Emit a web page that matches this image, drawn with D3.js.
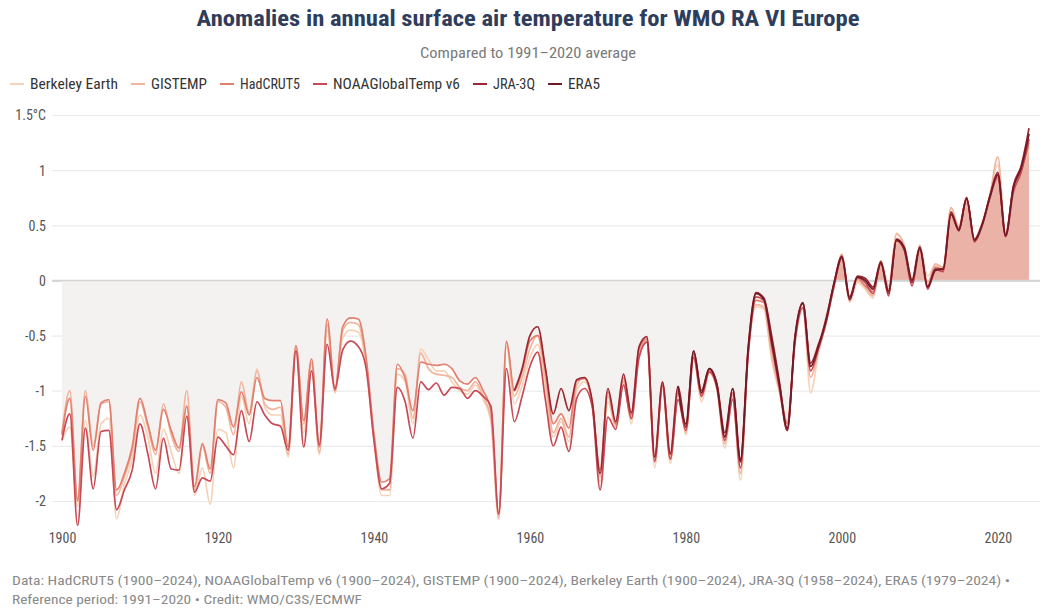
<!DOCTYPE html>
<html>
<head>
<meta charset="utf-8">
<script src="https://cdn.jsdelivr.net/npm/d3@7"></script>
<style>
  body { margin: 0; background: #fff; }
  svg { display: block; font-family: "Roboto Condensed", "Liberation Sans Narrow", Roboto, sans-serif; }
</style>
</head>
<body>
<svg id="chart" width="1048" height="610"></svg>
<script>
(function(){
  // data
  var years = d3.range(1900, 2025);
  var jraYears = d3.range(1958, 2025);
  var eraYears = d3.range(1979, 2025);

  var hadcrut5 = [-1.40,-1.07,-2.00,-1.05,-1.54,-1.11,-1.08,-1.90,-1.75,-1.51,
    -1.07,-1.30,-1.54,-1.17,-1.36,-1.52,-1.14,-1.87,-1.48,-1.71,
    -1.08,-1.11,-1.33,-1.01,-1.22,-0.88,-1.07,-1.09,-1.09,-1.51,
    -0.59,-1.27,-0.71,-1.51,-0.35,-1.00,-0.42,-0.34,-0.35,-0.70,
    -1.39,-1.83,-1.80,-0.76,-0.89,-1.18,-0.74,-0.76,-0.77,-0.76,
    -0.80,-0.91,-0.94,-0.88,-1.00,-1.18,-2.11,-0.55,-1.00,-0.82,
    -0.55,-0.50,-0.82,-1.30,-1.21,-1.34,-0.91,-0.89,-1.12,-1.72,
    -1.01,-1.30,-0.88,-1.22,-0.62,-0.53,-1.60,-0.93,-1.58,-1.02,
    -1.33,-0.66,-1.04,-0.81,-0.96,-1.42,-1.02,-1.65,-0.63,-0.18,
    -0.20,-0.60,-0.95,-1.30,-0.52,-0.20,-0.78,-0.60,-0.33,-0.03,
    0.22,-0.16,0.02,-0.05,-0.10,0.15,-0.08,0.38,0.30,0.00,
    0.30,-0.05,0.12,0.10,0.62,0.48,0.75,0.37,0.52,0.76,
    0.93,0.42,0.85,1.00,1.25];

  var noaa = [-1.45,-1.21,-2.22,-1.34,-1.89,-1.37,-1.36,-2.08,-1.90,-1.72,
    -1.30,-1.57,-1.89,-1.43,-1.71,-1.72,-1.23,-1.92,-1.79,-1.82,
    -1.42,-1.50,-1.58,-1.18,-1.46,-1.10,-1.22,-1.30,-1.32,-1.54,
    -0.64,-1.51,-0.82,-1.49,-0.58,-0.98,-0.63,-0.55,-0.60,-0.80,
    -1.45,-1.89,-1.84,-0.97,-1.10,-1.43,-0.92,-0.99,-0.93,-1.04,
    -0.97,-0.98,-1.07,-1.00,-1.05,-1.14,-2.12,-0.80,-1.28,-1.05,
    -0.78,-0.65,-1.09,-1.50,-1.33,-1.55,-1.07,-0.98,-1.15,-1.90,
    -1.24,-1.35,-0.95,-1.25,-0.70,-0.56,-1.64,-0.95,-1.62,-1.08,
    -1.36,-0.70,-1.05,-0.83,-0.98,-1.45,-1.08,-1.70,-0.66,-0.15,
    -0.18,-0.58,-0.98,-1.36,-0.55,-0.25,-0.82,-0.62,-0.38,-0.05,
    0.20,-0.18,0.03,-0.02,-0.12,0.16,-0.14,0.37,0.28,-0.05,
    0.28,-0.08,0.10,0.08,0.60,0.46,0.74,0.35,0.50,0.75,
    0.95,0.40,0.80,0.98,1.28];

  var gistemp = [-1.38,-1.00,-1.98,-1.00,-1.50,-1.12,-1.10,-1.95,-1.78,-1.55,
    -1.10,-1.33,-1.58,-1.12,-1.40,-1.55,-1.00,-1.90,-1.50,-1.75,
    -1.10,-1.15,-1.40,-0.92,-1.20,-0.82,-1.12,-1.17,-1.15,-1.58,
    -0.60,-1.30,-0.74,-1.56,-0.40,-0.98,-0.45,-0.38,-0.40,-0.74,
    -1.42,-1.90,-1.90,-0.80,-0.85,-1.25,-0.66,-0.80,-0.85,-0.86,
    -0.88,-0.97,-1.00,-0.92,-1.05,-1.25,-2.15,-0.56,-1.05,-0.88,
    -0.62,-0.50,-0.90,-1.38,-1.25,-1.42,-0.95,-0.88,-1.10,-1.78,
    -1.05,-1.32,-0.92,-1.26,-0.66,-0.54,-1.65,-0.96,-1.62,-1.00,
    -1.38,-0.68,-1.06,-0.82,-0.98,-1.48,-1.04,-1.75,-0.65,-0.22,
    -0.24,-0.68,-1.00,-1.28,-0.55,-0.24,-0.88,-0.64,-0.36,-0.06,
    0.24,-0.14,0.00,-0.06,-0.14,0.18,-0.05,0.42,0.32,0.02,
    0.32,-0.02,0.15,0.12,0.66,0.46,0.74,0.38,0.52,0.78,
    1.12,0.42,0.82,1.00,1.22];

  var berkeley = [-1.45,-1.33,-2.05,-1.27,-1.78,-1.30,-1.25,-2.16,-1.85,-1.62,
    -1.22,-1.42,-1.75,-1.35,-1.55,-1.75,-1.15,-1.95,-1.70,-2.03,
    -1.35,-1.38,-1.70,-1.05,-1.30,-0.80,-1.15,-1.22,-1.22,-1.60,
    -0.62,-1.38,-0.76,-1.58,-0.45,-1.02,-0.52,-0.45,-0.47,-0.76,
    -1.44,-1.95,-1.95,-0.85,-0.92,-1.30,-0.62,-0.72,-0.82,-0.82,
    -0.92,-1.00,-1.03,-0.95,-1.08,-1.28,-2.17,-0.60,-1.12,-0.95,
    -0.70,-0.58,-0.98,-1.42,-1.28,-1.46,-1.00,-0.92,-1.12,-1.82,
    -1.10,-1.33,-0.90,-1.30,-0.64,-0.55,-1.70,-0.98,-1.66,-1.04,
    -1.40,-0.70,-1.10,-0.84,-1.00,-1.52,-1.06,-1.81,-0.68,-0.24,
    -0.26,-0.72,-1.02,-1.30,-0.58,-0.26,-1.02,-0.66,-0.38,-0.06,
    0.20,-0.20,-0.02,-0.08,-0.16,0.16,-0.10,0.43,0.30,-0.04,
    0.31,0.04,0.14,0.10,0.66,0.50,0.73,0.36,0.50,0.78,
    1.05,0.44,0.80,0.98,1.20];

  var jra3q = [-1.00,-0.80,-0.50,-0.42,-0.80,-1.21,-0.98,-1.18,-0.90,-0.88,
    -1.10,-1.75,-0.98,-1.28,-0.85,-1.20,-0.60,-0.51,-1.60,-0.92,
    -1.57,-0.96,-1.33,-0.64,-1.00,-0.80,-0.94,-1.38,-0.98,-1.62,
    -0.60,-0.11,-0.16,-0.50,-0.92,-1.36,-0.50,-0.20,-0.75,-0.58,
    -0.36,-0.02,0.22,-0.15,0.04,0.02,-0.06,0.17,-0.12,0.36,
    0.28,-0.02,0.30,-0.06,0.09,0.11,0.62,0.45,0.75,0.36,
    0.50,0.77,0.98,0.40,0.86,1.04,1.38];

  var era5 = [-0.96,-1.30,-0.64,-1.02,-0.80,-0.96,-1.42,-0.98,-1.64,-0.62,
    -0.12,-0.17,-0.55,-0.95,-1.34,-0.52,-0.21,-0.78,-0.60,-0.35,
    -0.03,0.21,-0.17,0.03,0.00,-0.08,0.16,-0.10,0.37,0.30,
    0.00,0.30,-0.06,0.10,0.10,0.60,0.46,0.74,0.37,0.51,
    0.76,0.96,0.41,0.84,1.02,1.33];

  var yTicks = [-2, -1.5, -1, -0.5, 0, 0.5, 1, 1.5];
  var xTicks = [1900, 1920, 1940, 1960, 1980, 2000, 2020];

  // legend order = drawing order (last one on top)
  var series = [
    {name: "Berkeley Earth", years: years, values: berkeley, color: "#f6d2b8"},
    {name: "GISTEMP", years: years, values: gistemp, color: "#f0b59f"},
    {name: "HadCRUT5", years: years, values: hadcrut5, color: "#e2806f"},
    {name: "NOAAGlobalTemp v6", years: years, values: noaa, color: "#c84a57"},
    {name: "JRA-3Q", years: jraYears, values: jra3q, color: "#9b2733"},
    {name: "ERA5", years: eraYears, values: era5, color: "#6f1b27"}
  ];
  var legendWidths = [88, 56, 60, 127, 42, 32];

  var svg = d3.select("#chart");

  var x = d3.scaleLinear().domain([1900, 2024]).range([62, 1029]);
  var y = d3.scaleLinear().domain([-2, 1.5]).range([501, 115]);

  // titles
  svg.append("text")
    .attr("x", 528).attr("y", 26)
    .attr("text-anchor", "middle")
    .attr("textLength", 663).attr("lengthAdjust", "spacingAndGlyphs")
    .style("font-size", "22px").style("font-weight", "bold")
    .style("fill", "#2f3d5c")
    .text("Anomalies in annual surface air temperature for WMO RA VI Europe");

  svg.append("text")
    .attr("x", 528).attr("y", 58)
    .attr("text-anchor", "middle")
    .attr("textLength", 216).attr("lengthAdjust", "spacingAndGlyphs")
    .style("font-size", "14px").style("fill", "#7a7a7a")
    .text("Compared to 1991\u20132020 average");

  // legend
  var lx = 10;
  var legend = svg.append("g");
  series.forEach(function(s, i){
    var g = legend.append("g").attr("transform", "translate(" + lx + ",84)");
    g.append("line").attr("x1", 0).attr("x2", 14).attr("y1", 0).attr("y2", 0)
      .attr("stroke", s.color).attr("stroke-width", 2);
    g.append("text").attr("x", 20).attr("y", 5)
      .attr("textLength", legendWidths[i]).attr("lengthAdjust", "spacingAndGlyphs")
      .style("font-size", "14px").style("fill", "#333")
      .text(s.name);
    lx += 20 + legendWidths[i] + 13;
  });

  // grid + y labels
  var yAxis = svg.append("g")
    .attr("transform", "translate(52,0)")
    .call(d3.axisLeft(y).tickValues(yTicks).tickSize(-(1040 - 52)).tickPadding(6)
      .tickFormat(function(d){ return d === 1.5 ? "1.5\u00b0C" : String(d); }));
  yAxis.select(".domain").remove();
  yAxis.selectAll(".tick line")
    .attr("stroke", function(d){ return d === 0 ? "#cfcfcf" : "#ebebeb"; })
    .attr("stroke-width", function(d){ return d === 0 ? 1.5 : 1.2; });
  yAxis.selectAll(".tick text")
    .style("font-size", "14px").style("fill", "#555")
    .style("font-family", "\"Roboto Condensed\", \"Liberation Sans Narrow\", Roboto, sans-serif")
    .attr("dy", "0.35em");

  // area fills (grey below zero before 2000, red above zero)
  var defs = svg.append("defs");
  defs.append("clipPath").attr("id", "clipNeg").append("rect")
    .attr("x", x(1900)).attr("y", y(0))
    .attr("width", x(1999.9) - x(1900)).attr("height", 200);
  defs.append("clipPath").attr("id", "clipPos").append("rect")
    .attr("x", x(1900)).attr("y", 0)
    .attr("width", x(2024) - x(1900)).attr("height", y(0));

  var area = d3.area()
    .x(function(d){ return x(d[0]); })
    .y0(y(0))
    .y1(function(d){ return y(d[1]); })
    .curve(d3.curveMonotoneX);
  var areaData = years.map(function(yr, i){ return [yr, hadcrut5[i]]; });

  svg.append("path").datum(areaData)
    .attr("d", area).attr("fill", "#f3f2f1")
    .attr("clip-path", "url(#clipNeg)");
  svg.append("path").datum(areaData)
    .attr("d", area).attr("fill", "#ebb3a8")
    .attr("clip-path", "url(#clipPos)");

  // zero line again over the fills
  svg.append("line")
    .attr("x1", 52).attr("x2", 1040)
    .attr("y1", y(0)).attr("y2", y(0))
    .attr("stroke", "#d4d4d4").attr("stroke-width", 1.5);

  // lines
  var line = d3.line()
    .x(function(d){ return x(d[0]); })
    .y(function(d){ return y(d[1]); })
    .curve(d3.curveMonotoneX);

  svg.append("g").selectAll("path")
    .data(series)
    .enter().append("path")
    .attr("d", function(s){
      return line(s.years.map(function(yr, i){ return [yr, s.values[i]]; }));
    })
    .attr("fill", "none")
    .attr("stroke", function(s){ return s.color; })
    .attr("stroke-width", 1.7)
    .attr("stroke-linejoin", "round");

  // x labels
  var xAxis = svg.append("g")
    .attr("transform", "translate(0,527)")
    .call(d3.axisBottom(x).tickValues(xTicks).tickSize(0).tickPadding(6).tickFormat(d3.format("d")));
  xAxis.select(".domain").remove();
  xAxis.selectAll(".tick text")
    .style("font-size", "14px").style("fill", "#555")
    .style("font-family", "\"Roboto Condensed\", \"Liberation Sans Narrow\", Roboto, sans-serif");

  // footer
  svg.append("text")
    .attr("x", 12).attr("y", 585)
    .attr("textLength", 998).attr("lengthAdjust", "spacingAndGlyphs")
    .style("font-size", "13px").style("fill", "#8a8a8a")
    .text("Data: HadCRUT5 (1900\u20132024), NOAAGlobalTemp v6 (1900\u20132024), GISTEMP (1900\u20132024), Berkeley Earth (1900\u20132024), JRA-3Q (1958\u20132024), ERA5 (1979\u20132024) \u2022");
  svg.append("text")
    .attr("x", 12).attr("y", 604)
    .attr("textLength", 350).attr("lengthAdjust", "spacingAndGlyphs")
    .style("font-size", "13px").style("fill", "#8a8a8a")
    .text("Reference period: 1991\u20132020 \u2022 Credit: WMO/C3S/ECMWF");
})();
</script>
</body>
</html>
